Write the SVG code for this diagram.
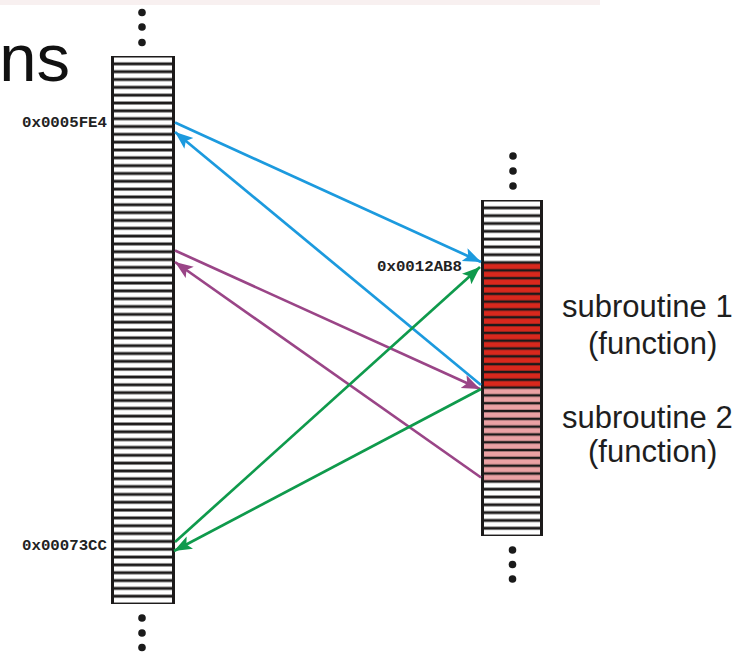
<svg xmlns="http://www.w3.org/2000/svg" width="748" height="652" viewBox="0 0 748 652">
  <style>
    .addr { font-family: "Liberation Mono", "DejaVu Sans Mono", monospace; font-weight: bold; font-size: 15px; fill: #222; }
    .lbl { font-family: "Liberation Sans", Arial, sans-serif; font-size: 31px; fill: #1e1e1e; }
    .title { font-family: "Liberation Sans", Arial, sans-serif; font-size: 67px; fill: #111; }
    .frame { fill: #1c1a1a; }
    .dot { fill: #1a1a1a; }
    .call { fill: none; stroke-width: 2.7; }
  </style>
  <defs>
    <!-- stripe tiles: one memory word per row -->
    <pattern id="rowsL" patternUnits="userSpaceOnUse" x="0" y="56" width="748" height="7.8286">
      <rect x="0" y="1.5" width="748" height="4.9" fill="#ffffff"/>
    </pattern>
    <pattern id="rowsR" patternUnits="userSpaceOnUse" x="0" y="200" width="748" height="7.814">
      <rect x="0" y="1.5" width="748" height="4.9" fill="#ffffff"/>
    </pattern>
    <pattern id="rowsRed" patternUnits="userSpaceOnUse" x="0" y="200" width="748" height="7.814">
      <rect x="0" y="1.3" width="748" height="5.3" fill="#d9281d"/>
    </pattern>
    <pattern id="rowsPink" patternUnits="userSpaceOnUse" x="0" y="200" width="748" height="7.814">
      <rect x="0" y="1.3" width="748" height="5.3" fill="#eba1a4"/>
    </pattern>
    <marker id="hBlue" markerUnits="userSpaceOnUse" markerWidth="20" markerHeight="16" refX="18" refY="7" orient="auto">
      <path d="M0,0 L18,7 L0,14 L4,7 z" fill="#1c9ade"/>
    </marker>
    <marker id="hPurple" markerUnits="userSpaceOnUse" markerWidth="20" markerHeight="16" refX="18" refY="7" orient="auto">
      <path d="M0,0 L18,7 L0,14 L4,7 z" fill="#9a4587"/>
    </marker>
    <marker id="hGreen" markerUnits="userSpaceOnUse" markerWidth="20" markerHeight="16" refX="18" refY="7" orient="auto">
      <path d="M0,0 L18,7 L0,14 L4,7 z" fill="#0f9a4c"/>
    </marker>
  </defs>

  <rect width="748" height="652" fill="#ffffff"/>
  <rect x="0" y="0" width="600" height="5" fill="#f8f0f0"/>

  <text class="title" x="70" y="81" text-anchor="end">ns</text>

  <!-- caller's memory -->
  <g id="mem-main">
    <rect class="frame" x="111" y="56" width="64" height="548"/>
    <rect x="114" y="56" width="58" height="548" fill="url(#rowsL)"/>
    <circle class="dot" cx="142" cy="12.5" r="3.8"/>
    <circle class="dot" cx="142" cy="27" r="3.8"/>
    <circle class="dot" cx="142" cy="42.5" r="3.8"/>
    <circle class="dot" cx="142" cy="618" r="3.8"/>
    <circle class="dot" cx="142" cy="633" r="3.8"/>
    <circle class="dot" cx="142" cy="647.5" r="3.8"/>
    <text class="addr" x="22" y="127" textLength="85" lengthAdjust="spacingAndGlyphs">0x0005FE4</text>
    <text class="addr" x="22" y="550" textLength="85" lengthAdjust="spacingAndGlyphs">0x00073CC</text>
  </g>

  <!-- subroutine memory -->
  <g id="mem-sub">
    <rect class="frame" x="481" y="200" width="62" height="336"/>
    <rect x="484" y="200" width="56" height="62.5" fill="url(#rowsR)"/>
    <rect x="484" y="262.5" width="56" height="125" fill="url(#rowsRed)"/>
    <rect x="484" y="387.5" width="56" height="93.8" fill="url(#rowsPink)"/>
    <rect x="484" y="481.3" width="56" height="54.7" fill="url(#rowsR)"/>
    <circle class="dot" cx="513" cy="156" r="3.8"/>
    <circle class="dot" cx="513" cy="171" r="3.8"/>
    <circle class="dot" cx="513" cy="186" r="3.8"/>
    <circle class="dot" cx="512.5" cy="550" r="3.8"/>
    <circle class="dot" cx="512.5" cy="564.5" r="3.8"/>
    <circle class="dot" cx="512.5" cy="579" r="3.8"/>
    <text class="addr" x="377" y="271" textLength="85" lengthAdjust="spacingAndGlyphs">0x0012AB8</text>
  </g>

  <g id="sub1-label">
    <text class="lbl" x="562" y="317">subroutine 1</text>
    <text class="lbl" x="588" y="354">(function)</text>
  </g>
  <g id="sub2-label">
    <text class="lbl" x="562" y="428">subroutine 2</text>
    <text class="lbl" x="588" y="462">(function)</text>
  </g>

  <!-- calls and returns -->
  <g id="connectors">
    <line class="call" x1="175" y1="122.5" x2="481" y2="262" stroke="#1c9ade" marker-end="url(#hBlue)"/>
    <line class="call" x1="481" y1="385" x2="175" y2="132" stroke="#1c9ade" marker-end="url(#hBlue)"/>
    <line class="call" x1="175" y1="250.5" x2="480" y2="389" stroke="#9a4587" marker-end="url(#hPurple)"/>
    <line class="call" x1="481" y1="477.5" x2="175" y2="262" stroke="#9a4587" marker-end="url(#hPurple)"/>
    <line class="call" x1="175" y1="542" x2="480" y2="267" stroke="#0f9a4c" marker-end="url(#hGreen)"/>
    <line class="call" x1="481" y1="389" x2="174" y2="551" stroke="#0f9a4c" marker-end="url(#hGreen)"/>
  </g>
</svg>
